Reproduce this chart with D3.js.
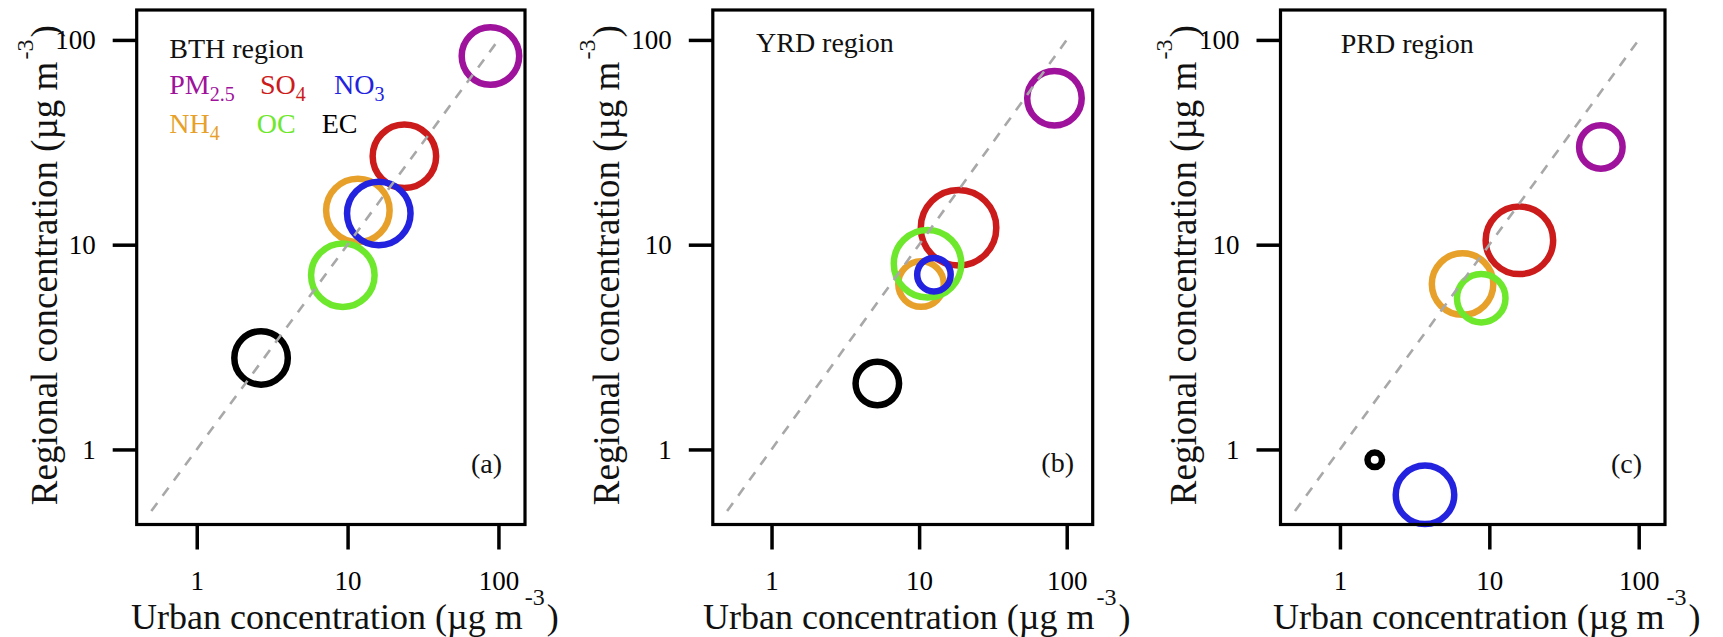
<!DOCTYPE html>
<html>
<head>
<meta charset="utf-8">
<script src="https://cdn.jsdelivr.net/npm/d3@7"></script>
<style>
  html, body { margin: 0; padding: 0; background: #ffffff; }
  svg { display: block; }
  text { font-family: "Liberation Serif", "Times New Roman", serif; }
</style>
</head>
<body>
<svg id="chart" width="1723" height="637"></svg>
<script>
// ---- data -------------------------------------------------------------
const species = ["PM2.5", "SO4", "NO3", "NH4", "OC", "EC"];
const speciesColors = ["#9e129c", "#cc1b1b", "#2323df", "#e7a12a", "#6ee82c", "#000000"];
const legendBase = ["PM", "SO", "NO", "NH", "OC", "EC"];
const legendSub = ["2.5", "4", "3", "4", "", ""];

const regionNames = ["BTH region", "YRD region", "PRD region"];
const panelTags = ["(a)", "(b)", "(c)"];

// urban vs regional mean concentrations (µg m-3), order follows `species`
const urbanBTH = [88.5, 23.8, 16.1, 11.7, 9.3, 2.67];
const regionalBTH = [83.4, 27.0, 14.2, 14.7, 7.1, 2.80];
const symbolBTH = [3.2, 3.5, 3.5, 3.5, 3.5, 3.0];

const urbanYRD = [82.6, 18.5, 12.6, 10.3, 11.4, 5.21];
const regionalYRD = [51.9, 12.1, 7.14, 6.42, 8.07, 2.10];
const symbolYRD = [3.05, 4.1, 2.0, 2.6, 3.7, 2.5];

const urbanPRD = [55.8, 15.9, 3.71, 6.62, 8.83, 1.71];
const regionalPRD = [30.0, 10.5, 0.60, 6.42, 5.48, 0.89];
const symbolPRD = [2.5, 3.7, 3.25, 3.4, 2.75, 1.05];

const xTicks = [1, 10, 100];
const yTicks = [1, 10, 100];
const oneToOne = [0.5, 100];

// drawing order of the rings (later ones sit on top)
const drawOrder = [0, 1, 3, 4, 2, 5];

// ---- layout -----------------------------------------------------------
const svg = d3.select("#chart");
svg.append("rect").attr("width", 1723).attr("height", 637).attr("fill", "#fff");

const plotTop = 10, plotBottom = 524.5;
const ringWidth = 6.5;
const panels = [
  { left: 136.7, right: 525.0, urban: urbanBTH, regional: regionalBTH, symbol: symbolBTH,
    titleX: 57, nameX: 169.3, nameY: 58, tagRight: 502, tagY: 473, legend: true },
  { left: 712.8, right: 1092.7, urban: urbanYRD, regional: regionalYRD, symbol: symbolYRD,
    titleX: 619, nameX: 756, nameY: 52, tagRight: 1074, tagY: 472, legend: false },
  { left: 1280.5, right: 1665.0, urban: urbanPRD, regional: regionalPRD, symbol: symbolPRD,
    titleX: 1196, nameX: 1340.7, nameY: 53, tagRight: 1642, tagY: 473, legend: false }
];

const symbolScale = d3.scaleLinear().domain([0, 1]).range([0, 10]);

panels.forEach((p, pi) => {
  const g = svg.append("g");
  const x = d3.scaleLog().domain([0.4, 150]).range([p.left, p.right]);
  const y = d3.scaleLog().domain([0.43, 140]).range([plotBottom, plotTop]);

  // axes
  const yAxis = d3.axisLeft(y).tickValues(yTicks).tickFormat(d3.format("d"))
    .tickSize(24).tickPadding(17);
  const xAxis = d3.axisBottom(x).tickValues(xTicks).tickFormat(d3.format("d"))
    .tickSize(25).tickPadding(21);

  const ya = g.append("g").attr("transform", `translate(${p.left},0)`).call(yAxis);
  const xa = g.append("g").attr("transform", `translate(0,${plotBottom})`).call(xAxis);
  [ya, xa].forEach(a => {
    a.select(".domain").remove();
    a.selectAll(".tick line").attr("stroke", "#000").attr("stroke-width", 3.5);
    a.selectAll(".tick text").attr("fill", "#000").style("font-size", "27px")
      .style("font-family", '"Liberation Serif", "Times New Roman", serif');
  });

  // rings
  g.append("g").selectAll("circle").data(drawOrder).join("circle")
    .attr("cx", i => x(p.urban[i]))
    .attr("cy", i => y(p.regional[i]))
    .attr("r", i => symbolScale(p.symbol[i]) - ringWidth / 2)
    .attr("fill", "none")
    .attr("stroke", i => speciesColors[i])
    .attr("stroke-width", ringWidth);

  // 1:1 reference line
  g.append("path")
    .datum(oneToOne)
    .attr("d", d3.line().x(d => x(d)).y(d => y(d)))
    .attr("fill", "none")
    .attr("stroke", "#a8a8a8")
    .attr("stroke-width", 2.6)
    .attr("stroke-dasharray", "10,9");

  // plot frame
  g.append("rect")
    .attr("x", p.left).attr("y", plotTop)
    .attr("width", p.right - p.left).attr("height", plotBottom - plotTop)
    .attr("fill", "none").attr("stroke", "#000").attr("stroke-width", 3.2);

  // region name
  g.append("text").attr("x", p.nameX).attr("y", p.nameY)
    .style("font-size", "28px").attr("fill", "#111").text(regionNames[pi]);

  // panel tag
  g.append("text").attr("x", p.tagRight).attr("y", p.tagY)
    .attr("text-anchor", "end").style("font-size", "28px").attr("fill", "#111")
    .text(panelTags[pi]);

  // legend (first panel only)
  if (p.legend) {
    const cols = [169.3, 260, 334, 169.3, 256.7, 321.7];
    const rows = [94, 94, 94, 133, 133, 133];
    species.forEach((s, i) => {
      const t = g.append("text").attr("x", cols[i]).attr("y", rows[i])
        .style("font-size", "28px").attr("fill", speciesColors[i]);
      t.append("tspan").text(legendBase[i]);
      if (legendSub[i]) {
        t.append("tspan").attr("dy", 7).style("font-size", "20px").text(legendSub[i]);
      }
    });
  }

  // x-axis title
  const cx = (p.left + p.right) / 2 + 14;
  const xt = g.append("text").attr("x", cx).attr("y", 629)
    .attr("text-anchor", "middle").style("font-size", "36px").attr("fill", "#111");
  xt.append("tspan").text("Urban concentration (\u00b5g m");
  xt.append("tspan").attr("dy", -24).attr("dx", 2).style("font-size", "24px").text("-3");
  xt.append("tspan").attr("dy", 24).attr("dx", 2).text(")");

  // y-axis title
  const cy = (plotTop + plotBottom) / 2 - 2;
  const yt = g.append("text")
    .attr("transform", `translate(${p.titleX},${cy}) rotate(-90)`)
    .attr("text-anchor", "middle").style("font-size", "37px").attr("fill", "#111");
  yt.append("tspan").text("Regional concentration (\u00b5g m");
  yt.append("tspan").attr("dy", -24).attr("dx", 2).style("font-size", "24px").text("-3");
  yt.append("tspan").attr("dy", 24).attr("dx", 2).text(")");
});
</script>
</body>
</html>
